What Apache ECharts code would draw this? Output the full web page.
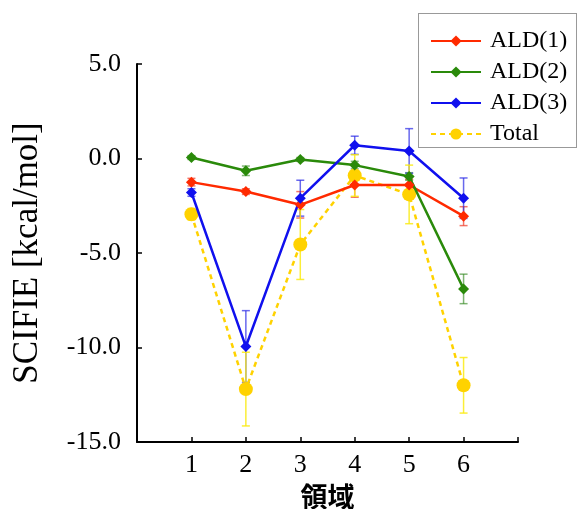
<!DOCTYPE html>
<html>
<head>
<meta charset="utf-8">
<script src="https://cdn.jsdelivr.net/npm/echarts@6/dist/echarts.min.js"></script>
<style>
html, body { margin: 0; padding: 0; background: #fff; }
#chart { width: 577px; height: 509px; }
</style>
</head>
<body>
<div id="chart"></div>
<script>
// regions on the x axis
const regions = [1, 2, 3, 4, 5, 6]
const yTicks = [-15, -10, -5, 0, 5]

// SCIFIE values [kcal/mol] and error bars
const ald1 = [-1.25, -1.75, -2.45, -1.4, -1.4, -3.05]
const ald1Err = [0.2, 0.15, 0.7, 0.65, 0.3, 0.5]
const ald2 = [0.05, -0.65, -0.05, -0.35, -0.95, -6.9]
const ald2Err = [0.1, 0.25, 0.1, 0.2, 0.2, 0.78]
const ald3 = [-1.8, -9.95, -2.1, 0.7, 0.4, -2.1]
const ald3Err = [0.2, 1.9, 0.95, 0.48, 1.18, 1.07]
const total = [-2.95, -12.2, -4.55, -0.9, -1.9, -12.0]
const totalErr = [0.3, 1.95, 1.85, 1.1, 1.55, 1.47]
const names = ['ALD(1)', 'ALD(2)', 'ALD(3)', 'Total']

const serif = '"Liberation Serif", "Times New Roman", serif'

const chart = echarts.init(document.getElementById('chart'))

function errSeries(name, vals, errs, color, z) {
  return {
    type: 'custom',
    name,
    z,
    silent: true,
    encode: { x: 0, y: [1, 2] },
    data: vals.map((v, i) => [regions[i], v - errs[i], v + errs[i]]),
    renderItem(params, api) {
      const lo = api.coord([api.value(0), api.value(1)])
      const hi = api.coord([api.value(0), api.value(2)])
      const w = 4
      const style = { stroke: color, lineWidth: 1.5 }
      return {
        type: 'group',
        children: [
          { type: 'line', shape: { x1: lo[0], y1: lo[1], x2: hi[0], y2: hi[1] }, style },
          { type: 'line', shape: { x1: lo[0] - w, y1: lo[1], x2: lo[0] + w, y2: lo[1] }, style },
          { type: 'line', shape: { x1: hi[0] - w, y1: hi[1], x2: hi[0] + w, y2: hi[1] }, style }
        ]
      }
    }
  }
}

function lineSeries(name, vals, color, symbol, size, dashed, z) {
  return {
    type: 'line',
    name,
    z,
    data: vals.map((v, i) => [regions[i], v]),
    symbol,
    symbolSize: size,
    showAllSymbol: true,
    itemStyle: { color },
    lineStyle: { color, width: 2.5, type: dashed ? [5, 4] : 'solid' },
    emphasis: { disabled: true }
  }
}

const legendText = { fontFamily: serif, fontSize: 24, color: '#000', lineHeight: 24, padding: [0, 0, 0, 4] }

chart.setOption({
  animation: false,
  grid: { left: 137, right: 59, top: 64, bottom: 67, outerBoundsMode: 'none', containLabel: false },
  legend: {
    data: names.map(n => ({ name: n, textStyle: legendText })),
    orient: 'vertical',
    left: 425,
    top: 24,
    itemWidth: 50,
    itemHeight: 14,
    itemGap: 7,
    selectedMode: false,
    textStyle: legendText
  },
  graphic: [{
    type: 'rect',
    shape: { x: 418.5, y: 13.5, width: 158, height: 134 },
    style: { fill: 'none', stroke: '#333', lineWidth: 1, lineDash: [1, 1] }
  }],
  xAxis: {
    type: 'value',
    min: 0,
    max: 7,
    interval: 1,
    name: '領域',
    nameLocation: 'middle',
    nameGap: 40,
    nameTextStyle: { fontFamily: '"Noto Sans CJK JP"', fontWeight: 'bold', fontSize: 27, color: '#000' },
    axisLine: { onZero: false, lineStyle: { color: '#000', width: 2 } },
    axisTick: { inside: true, length: 5, lineStyle: { color: '#000', width: 1.5 } },
    axisLabel: {
      fontFamily: serif, fontSize: 26, color: '#000', margin: 10,
      formatter: v => (regions.includes(v) ? String(v) : '')
    },
    splitLine: { show: false }
  },
  yAxis: {
    type: 'value',
    min: yTicks[0],
    max: yTicks[yTicks.length - 1],
    interval: 5,
    name: 'SCIFIE [kcal/mol]',
    nameLocation: 'middle',
    nameGap: 92,
    nameTextStyle: { fontFamily: serif, fontSize: 35, color: '#000' },
    axisLine: { show: true, onZero: false, lineStyle: { color: '#000', width: 2 } },
    axisTick: { show: true, inside: true, length: 5, lineStyle: { color: '#000', width: 1.5 } },
    axisLabel: { fontFamily: serif, fontSize: 26, color: '#000', margin: 16, formatter: v => v.toFixed(1) },
    splitLine: { show: false }
  },
  series: [
    errSeries('e1', ald1, ald1Err, 'rgba(240,60,40,0.7)', 1),
    errSeries('e2', ald2, ald2Err, 'rgba(40,130,20,0.6)', 1),
    errSeries('e3', ald3, ald3Err, 'rgba(40,40,230,0.7)', 1),
    errSeries('e4', total, totalErr, 'rgba(250,235,20,0.85)', 1),
    lineSeries(names[0], ald1, '#ff2a00', 'diamond', 11, false, 3),
    lineSeries(names[1], ald2, '#2a8a0a', 'diamond', 11, false, 3),
    lineSeries(names[2], ald3, '#1010ee', 'diamond', 11, false, 3),
    lineSeries(names[3], total, '#ffd200', 'circle', 14, true, 2)
  ]
})
</script>
</body>
</html>
